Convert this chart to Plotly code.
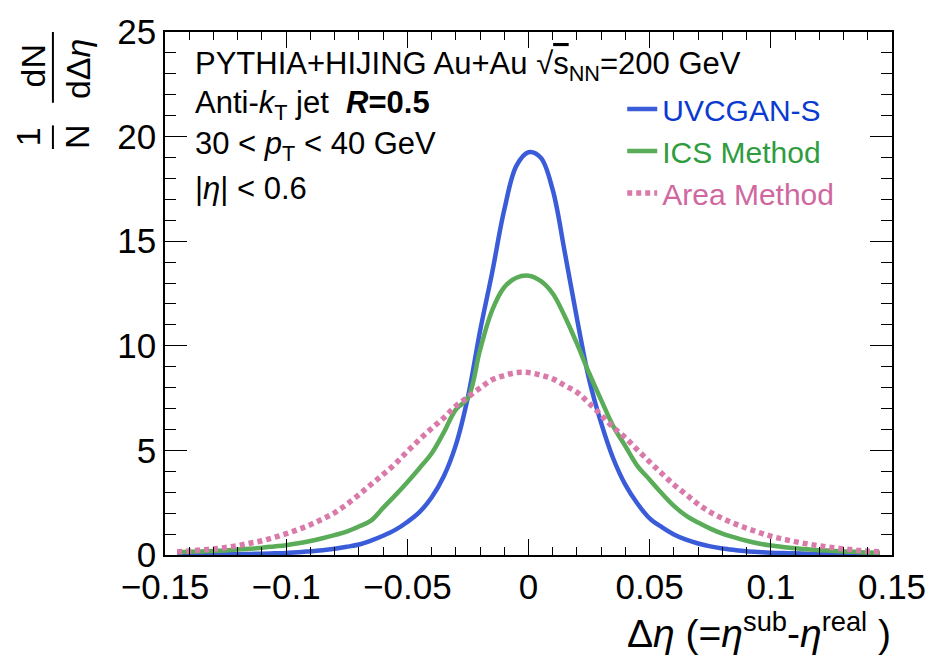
import plotly.graph_objects as go

# Delta-eta bin centres
delta_eta = [round(-0.145 + 0.005 * i, 3) for i in range(59)]

# Normalised distributions 1/N dN/dDelta-eta
uvcgan_s = [
    0.02, 0.02, 0.03, 0.03, 0.04, 0.04, 0.05, 0.06, 0.08, 0.10,
    0.13, 0.18, 0.23, 0.30, 0.39, 0.50, 0.69, 0.92, 1.20, 1.58,
    2.05, 2.75, 3.75, 5.25, 7.55, 10.7, 13.5, 16.5, 18.6, 19.25,
    19.0, 17.45, 14.45, 11.3, 8.4, 6.3, 4.6, 3.35, 2.45, 1.75,
    1.33, 0.98, 0.73, 0.55, 0.41, 0.31, 0.24, 0.18, 0.14, 0.11,
    0.09, 0.08, 0.06, 0.05, 0.04, 0.04, 0.03, 0.03, 0.02,
]
ics_method = [
    0.13, 0.15, 0.17, 0.19, 0.22, 0.26, 0.30, 0.35, 0.41, 0.47,
    0.56, 0.67, 0.80, 0.95, 1.12, 1.36, 1.64, 2.25, 2.85, 3.48,
    4.15, 4.85, 5.85, 6.95, 7.5, 9.8, 11.7, 12.8, 13.25, 13.35,
    13.1, 12.5, 11.4, 10.1, 8.7, 7.4, 6.15, 5.2, 4.25, 3.6,
    2.95, 2.35, 1.88, 1.55, 1.26, 1.02, 0.84, 0.68, 0.55, 0.45,
    0.38, 0.32, 0.27, 0.23, 0.20, 0.17, 0.15, 0.12, 0.11,
]
area_method = [
    0.15, 0.19, 0.24, 0.29, 0.36, 0.45, 0.56, 0.68, 0.84, 1.02,
    1.22, 1.45, 1.72, 2.02, 2.42, 2.88, 3.37, 3.85, 4.36, 4.95,
    5.52, 6.05, 6.55, 7.12, 7.55, 7.98, 8.38, 8.58, 8.72, 8.72,
    8.60, 8.42, 8.10, 7.78, 7.25, 6.68, 6.10, 5.60, 5.02, 4.45,
    3.90, 3.36, 2.90, 2.43, 2.05, 1.75, 1.50, 1.28, 1.08, 0.90,
    0.76, 0.64, 0.53, 0.44, 0.36, 0.29, 0.23, 0.18, 0.15,
]

x_ticks = [-0.15, -0.1, -0.05, 0, 0.05, 0.1, 0.15]
x_tick_labels = ["\u22120.15", "\u22120.1", "\u22120.05", "0", "0.05", "0.1", "0.15"]
y_ticks = [0, 5, 10, 15, 20, 25]

FONT = "Liberation Sans, Arial, sans-serif"
BLUE, BLUE_TXT = "#3a5cd8", "#0b3ad0"
GREEN, GREEN_TXT = "#5aac58", "#2f9c3e"
PINK, PINK_TXT = "#d97aab", "#d0679f"

fig = go.Figure()
series = [
    ("UVCGAN-S", uvcgan_s, BLUE, BLUE_TXT, "solid", 4.5),
    ("ICS Method", ics_method, GREEN, GREEN_TXT, "solid", 4.5),
    ("Area Method", area_method, PINK, PINK_TXT, "5px,4px", 5.5),
]
for name, vals, col, tcol, dash, lw in series:
    fig.add_trace(go.Scatter(
        x=delta_eta, y=vals, mode="lines",
        name=f"<span style='color:{tcol}'>{name}</span>",
        line=dict(color=col, width=lw, dash=dash, shape="spline", smoothing=1.0),
    ))

L, R, T, B = 165, 40, 23, 105
W, H = 938, 660
PW, PH = W - L - R, H - T - B


def px(xp):
    return (xp - L) / PW


def py(yp):
    return (H - B - yp) / PH


axis_common = dict(
    showline=True, linecolor="black", linewidth=1.5, mirror="allticks",
    ticks="inside", tickcolor="black", tickwidth=1.3,
    showgrid=False, zeroline=False,
    tickfont=dict(family=FONT, size=35, color="black"),
)
fig.update_xaxes(
    range=[-0.15, 0.15], tickvals=x_ticks, ticktext=x_tick_labels, ticklen=16,
    minor=dict(dtick=0.01, ticks="inside", ticklen=8, tickcolor="black", tickwidth=1.3, showgrid=False),
    **axis_common,
)
fig.update_yaxes(
    range=[0, 25], tickvals=y_ticks, ticklen=22,
    minor=dict(dtick=1, ticks="inside", ticklen=11, tickcolor="black", tickwidth=1.3, showgrid=False),
    **axis_common,
)

ann = []


def text(xp, yp, s, size=31, anchor="left", angle=0, color="black"):
    ann.append(dict(
        x=px(xp), y=py(yp), xref="paper", yref="paper", text=s, showarrow=False,
        xanchor=anchor, yanchor="middle", textangle=angle,
        font=dict(family=FONT, size=size, color=color),
    ))


text(193, 58, "PYTHIA+HIJING Au+Au \u221a<span style='text-decoration:overline'>s</span><sub>NN</sub>=200 GeV")
text(193, 97, "Anti-<i>k</i><sub>T</sub> jet  <b><i>R</i>=0.5</b>")
text(193, 139, "30 &lt; <i>p</i><sub>T</sub> &lt; 40 GeV")
text(193, 182, "|<i>\u03b7</i>| &lt; 0.6")

# x-axis title
text(899, 632, "\u0394<i>\u03b7</i> (=<i>\u03b7</i><sup>sub</sup>-<i>\u03b7</i><sup>real</sup> )", size=39, anchor="right")

# y-axis title as two stacked fractions
text(32, 58, "dN", size=34, anchor="center", angle=-90)
text(78, 60, "d\u0394<i>\u03b7</i>", size=34, anchor="center", angle=-90)
text(27, 130, "1", size=34, anchor="center", angle=-90)
text(76, 129, "N", size=34, anchor="center", angle=-90)

shapes = [
    dict(type="line", xref="paper", yref="paper", x0=px(52), x1=px(52), y0=py(23), y1=py(95),
         line=dict(color="black", width=2)),
    dict(type="line", xref="paper", yref="paper", x0=px(52), x1=px(52), y0=py(118), y1=py(142),
         line=dict(color="black", width=2)),
]

fig.update_layout(
    width=W, height=H,
    margin=dict(l=L, r=R, t=T, b=B),
    paper_bgcolor="white", plot_bgcolor="white",
    annotations=ann, shapes=shapes,
    showlegend=True,
    legend=dict(
        x=px(626), y=py(75), xanchor="left", yanchor="top",
        bgcolor="rgba(0,0,0,0)", borderwidth=0,
        font=dict(family=FONT, size=30),
        itemwidth=30, tracegroupgap=0,
    ),
)

fig.write_html("out.html")
